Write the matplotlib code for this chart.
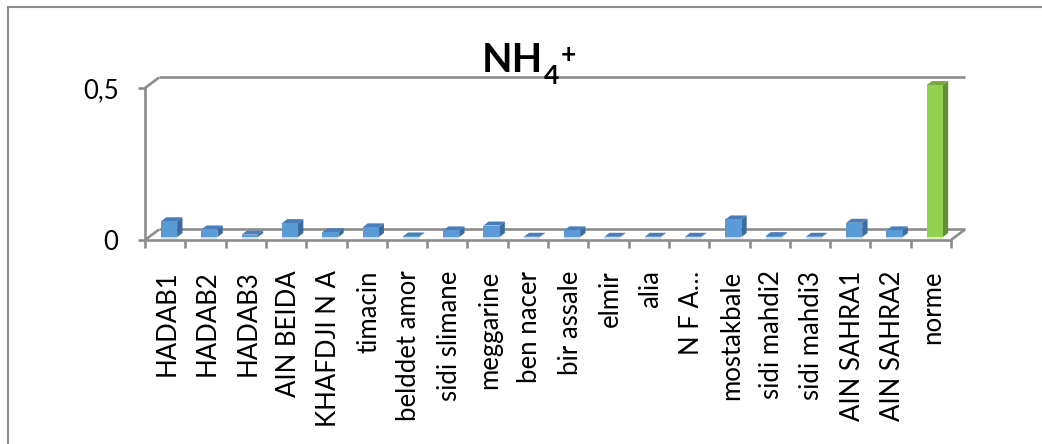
import matplotlib
matplotlib.use("Agg")
import matplotlib.pyplot as plt
from matplotlib.patches import Polygon
from matplotlib.lines import Line2D

# ---- data -------------------------------------------------------------
stations = ["HADAB1", "HADAB2", "HADAB3", "AIN BEIDA", "KHAFDJI N A", "timacin",
            "belddet amor", "sidi slimane", "meggarine", "ben nacer", "bir assale",
            "elmir", "alia", "N F A…", "mostakbale", "sidi mahdi2", "sidi mahdi3",
            "AIN SAHRA1", "AIN SAHRA2", "norme"]
nh4 = [0.052, 0.025, 0.008, 0.046, 0.016, 0.032, 0.002, 0.022, 0.038, 0.001,
       0.022, 0.001, 0.001, 0.001, 0.058, 0.003, 0.001, 0.047, 0.022, 0.5]
y_ticks = [0, 0.5]
y_tick_labels = ["0", "0,5"]
title_main, title_sub, title_sup = "NH", "4", "+"

# ---- styling ----------------------------------------------------------
W, H, DPI = 1042, 444, 100
GRID = "#8c8c8c"
BLUE = dict(front="#5b9bd5", top="#4a7ebb", side="#3d6b9f", base="#cfe0f1")
GREEN = dict(front="#92d050", top="#77a843", side="#628f35", base="#dcefc8")
FONT = "Lato"
LABEL_SIZE = 18.5

fig = plt.figure(figsize=(W / DPI, H / DPI), dpi=DPI)
fig.patch.set_facecolor("white")

# plot area (front plane of the 3-D box)
ax_l, ax_b, ax_w, ax_h = 145, 204, 806, 152
ax = fig.add_axes([ax_l / W, ax_b / H, ax_w / W, ax_h / H])
n = len(stations)
ax.set_xlim(0, n)
ax.set_ylim(0, 0.5)
ax.set_facecolor("none")

# depth of the 3-D box, in pixels, converted to data units
depth_px = (14.0, 10.5)
Dx = depth_px[0] * n / ax_w
Dy = depth_px[1] * 0.5 / ax_h

# back wall / floor outline
lw = 1.9
wall = dict(color=GRID, lw=lw, clip_on=False, solid_capstyle="butt", zorder=1)
ax.plot([Dx, n + Dx], [0.5 + Dy, 0.5 + Dy], **wall)
ax.plot([Dx, n + Dx], [Dy, Dy], **wall)
ax.plot([0, Dx], [0.5, 0.5 + Dy], **wall)
ax.plot([0, Dx], [0, Dy], **wall)
ax.plot([n, n + Dx], [0, Dy], **wall)

# bars as simple 3-D boxes
f0, f1 = 0.28, 0.66       # front / back depth fraction of the bars
bw = 0.4                  # bar width (category units)
for i, v in enumerate(nh4):
    c = GREEN if stations[i] == "norme" else BLUE
    x0 = i + 0.5 - bw / 2 + f0 * Dx
    x1 = x0 + bw
    b0 = f0 * Dy
    dxx = (f1 - f0) * Dx
    dyy = (f1 - f0) * Dy
    # pale footprint under the bar
    ax.add_patch(Polygon([(x0, b0), (x1, b0), (x1, b0 - 0.007), (x0, b0 - 0.007)],
                         closed=True, fc=c["base"], ec="none", clip_on=False, zorder=2))
    # side face
    ax.add_patch(Polygon([(x1, b0), (x1 + dxx, b0 + dyy), (x1 + dxx, b0 + dyy + v), (x1, b0 + v)],
                         closed=True, fc=c["side"], ec="none", clip_on=False, zorder=3))
    # top face
    ax.add_patch(Polygon([(x0, b0 + v), (x1, b0 + v), (x1 + dxx, b0 + v + dyy), (x0 + dxx, b0 + v + dyy)],
                         closed=True, fc=c["top"], ec="none", clip_on=False, zorder=3))
    # front face
    ax.bar(i + 0.5 + f0 * Dx, v, width=bw, bottom=b0, color=c["front"],
           linewidth=0, clip_on=False, zorder=4)

# axes lines and ticks
for s in ("top", "right"):
    ax.spines[s].set_visible(False)
for s in ("left", "bottom"):
    ax.spines[s].set_color(GRID)
    ax.spines[s].set_linewidth(lw)
    ax.spines[s].set_zorder(5)

ax.set_yticks(y_ticks)
ax.set_yticklabels(y_tick_labels, fontfamily=FONT, fontsize=LABEL_SIZE)
ax.tick_params(axis="y", length=5, width=lw, color=GRID, pad=14)

ax.set_xticks([i + 0.5 + 0.05 for i in range(n)])
ax.set_xticklabels(stations, rotation=90, fontfamily=FONT, fontsize=LABEL_SIZE,
                   va="top", ha="center")
ax.set_xticks(range(n + 1), minor=True)
ax.tick_params(axis="x", which="major", length=0, pad=22)
ax.tick_params(axis="x", which="minor", length=6, width=lw, color=GRID)

# title with sub/superscript
baseline_px = 72
t_main = fig.text(482 / W, 1 - baseline_px / H, title_main, fontfamily=FONT,
                  fontweight="bold", fontsize=28.5, ha="left", va="baseline")
fig.canvas.draw()
x_end = t_main.get_window_extent().x1
t_sub = fig.text((x_end + 1) / W, 1 - (baseline_px + 12) / H, title_sub, fontfamily=FONT,
                 fontweight="bold", fontsize=19, ha="left", va="baseline")
fig.canvas.draw()
x_sub = t_sub.get_window_extent().x1
fig.text((x_sub + 1) / W, 1 - 43 / H, title_sup, fontfamily=FONT,
         fontweight="bold", fontsize=19, ha="left", va="top")

# chart-area border (left and top edges)
fx, fy = 8 / W, 1 - 7 / H
fig.add_artist(Line2D([fx, fx], [0, fy], transform=fig.transFigure, color=GRID, lw=1.5))
fig.add_artist(Line2D([fx, 1], [fy, fy], transform=fig.transFigure, color=GRID, lw=1.5))

fig.savefig("out.png", dpi=DPI, facecolor="white")
